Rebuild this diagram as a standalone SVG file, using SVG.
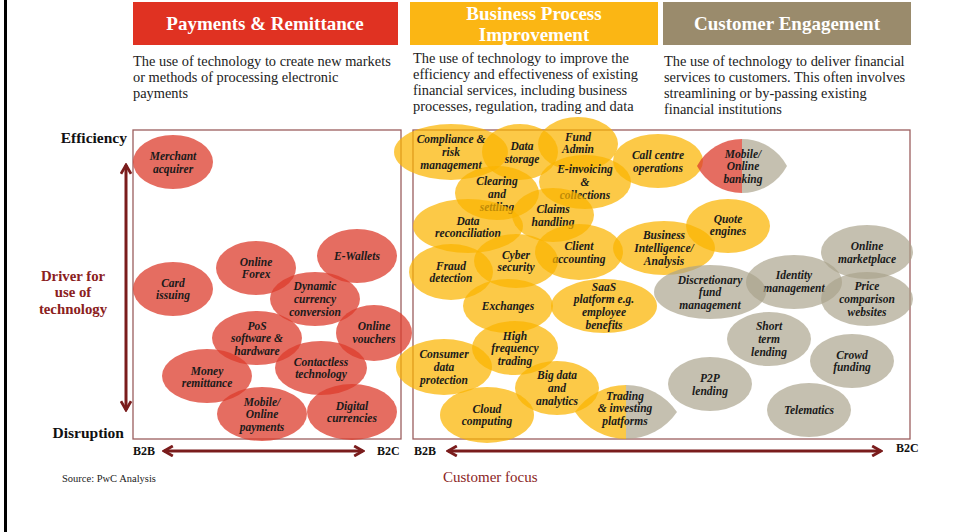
<svg xmlns="http://www.w3.org/2000/svg" width="958" height="532" viewBox="0 0 958 532">
<style>
.hdr{font-family:"Liberation Serif",serif;font-weight:bold;font-size:19px;fill:#fff;text-anchor:middle}
.desc{font-family:"Liberation Serif",serif;font-size:14.4px;fill:#222}
.bt{font-family:"Liberation Serif",serif;font-weight:bold;font-style:italic;font-size:11.5px;fill:#1a1a1a;text-anchor:middle}
.ax{font-family:"Liberation Serif",serif;font-weight:bold;font-size:15.5px;fill:#111}
.drv{font-family:"Liberation Serif",serif;font-weight:bold;font-size:14.8px;fill:#8b2020;text-anchor:middle}
.bb{font-family:"Liberation Serif",serif;font-weight:bold;font-size:12px;fill:#111}
.red{fill:#dc3c2c;fill-opacity:.75}
.yel{fill:#fbb400;fill-opacity:.72}
.gry{fill:#a9a28a;fill-opacity:.68}
.panel{fill:none;stroke:#9b5e5e;stroke-width:1.3}
.arr{stroke:#7a1c1c;stroke-width:3;fill:none}
</style>
<defs>
<marker id="chev" viewBox="0 0 10 10" refX="8.5" refY="5" markerWidth="4.2" markerHeight="4.2" orient="auto-start-reverse" markerUnits="strokeWidth">
<path d="M1.5,1 L8.5,5 L1.5,9" fill="none" stroke="#7a1c1c" stroke-width="2.2"/>
</marker>
</defs>
<rect x="0" y="0" width="958" height="532" fill="#fff"/>
<rect x="4" y="0" width="3" height="532" fill="#000"/>

<g id="header-payments">
<rect x="133" y="2" width="265" height="43" fill="#e03222"/>
<text class="hdr" x="265" y="30">Payments &amp; Remittance</text>
<text class="desc"><tspan x="133" y="66">The use of technology to create new markets</tspan><tspan x="133" y="82">or methods of processing  electronic</tspan><tspan x="133" y="98">payments</tspan></text>
</g>
<g id="header-bpi">
<rect x="410" y="2" width="248" height="43" fill="#fbb614"/>
<text class="hdr"><tspan x="534" y="19.5">Business Process</tspan><tspan x="534" y="40.5">Improvement</tspan></text>
<text class="desc"><tspan x="413" y="63">The use of technology to improve the</tspan><tspan x="413" y="79">efficiency and effectiveness of existing</tspan><tspan x="413" y="95">financial services, including business</tspan><tspan x="413" y="111">processes, regulation, trading and data</tspan></text>
</g>
<g id="header-ce">
<rect x="663" y="2" width="248" height="43" fill="#9a8b6c"/>
<text class="hdr" x="787" y="30">Customer Engagement</text>
<text class="desc"><tspan x="664" y="66">The use of technology to deliver financial</tspan><tspan x="664" y="82">services to customers. This often involves</tspan><tspan x="664" y="98">streamlining or by-passing existing</tspan><tspan x="664" y="114">financial institutions</tspan></text>
</g>

<g id="panels">
<rect class="panel" x="133" y="130" width="268" height="309"/>
<rect class="panel" x="413" y="130" width="497" height="309"/>
</g>

<g id="axis-labels">
<text class="ax" x="127" y="143" text-anchor="end">Efficiency</text>
<text class="ax" x="124" y="438" text-anchor="end">Disruption</text>
<text class="drv"><tspan x="73" y="280.5">Driver for</tspan><tspan x="73" y="297">use of</tspan><tspan x="73" y="313.5">technology</tspan></text>
<text class="bb" x="133" y="455">B2B</text>
<text class="bb" x="377" y="455">B2C</text>
<text class="bb" x="414" y="455">B2B</text>
<text class="bb" x="896" y="452">B2C</text>
<text x="62" y="482" font-family="Liberation Serif, serif" font-size="10.5" fill="#222">Source: PwC Analysis</text>
<text x="443" y="482" font-family="Liberation Serif, serif" font-size="15" fill="#8b2424">Customer focus</text>
</g>

<g id="connectors">
<line class="arr" x1="126" y1="165" x2="126" y2="410" marker-start="url(#chev)" marker-end="url(#chev)"/>
<line class="arr" x1="164" y1="451" x2="363" y2="451" marker-start="url(#chev)" marker-end="url(#chev)"/>
<line class="arr" x1="448" y1="451" x2="881" y2="451" marker-start="url(#chev)" marker-end="url(#chev)"/>
</g>

<!-- Payments & Remittance -->
<g id="merchant-acquirer"><ellipse class="red" cx="173" cy="162" rx="40" ry="27"/><text class="bt"><tspan x="173" y="160">Merchant</tspan><tspan x="173" y="173">acquirer</tspan></text></g>
<g id="card-issuing"><ellipse class="red" cx="173" cy="289" rx="40" ry="27"/><text class="bt"><tspan x="173" y="286.6">Card</tspan><tspan x="173" y="299.4">issuing</tspan></text></g>
<g id="online-forex"><ellipse class="red" cx="256" cy="268" rx="40" ry="27"/><text class="bt"><tspan x="256" y="265.6">Online</tspan><tspan x="256" y="278.4">Forex</tspan></text></g>
<g id="e-wallets"><ellipse class="red" cx="357" cy="256" rx="40" ry="27"/><text class="bt" x="357" y="260">E-Wallets</text></g>
<g id="dynamic-currency"><ellipse class="red" cx="315" cy="299" rx="45" ry="27"/><text class="bt"><tspan x="315" y="290.2">Dynamic</tspan><tspan x="315" y="303">currency</tspan><tspan x="315" y="315.8">conversion</tspan></text></g>
<g id="online-vouchers"><ellipse class="red" cx="374" cy="333" rx="38" ry="28"/><text class="bt"><tspan x="374" y="330.1">Online</tspan><tspan x="374" y="342.9">vouchers</tspan></text></g>
<g id="pos"><ellipse class="red" cx="257" cy="338" rx="45" ry="27"/><text class="bt"><tspan x="257" y="329.5">PoS</tspan><tspan x="257" y="342.3">software &amp;</tspan><tspan x="257" y="355.1">hardware</tspan></text></g>
<g id="contactless"><ellipse class="red" cx="321" cy="368" rx="46" ry="27"/><text class="bt"><tspan x="321" y="365.6">Contactless</tspan><tspan x="321" y="378.4">technology</tspan></text></g>
<g id="money-remittance"><ellipse class="red" cx="207" cy="376" rx="45" ry="27"/><text class="bt"><tspan x="207" y="374.6">Money</tspan><tspan x="207" y="387.4">remittance</tspan></text></g>
<g id="mobile-payments"><ellipse class="red" cx="262" cy="414" rx="45" ry="27"/><text class="bt"><tspan x="262" y="405.5">Mobile/</tspan><tspan x="262" y="418.3">Online</tspan><tspan x="262" y="431.1">payments</tspan></text></g>
<g id="digital-currencies"><ellipse class="red" cx="352" cy="412" rx="45" ry="28"/><text class="bt"><tspan x="352" y="409.6">Digital</tspan><tspan x="352" y="422.4">currencies</tspan></text></g>

<!-- Business Process Improvement -->
<g id="compliance"><ellipse class="yel" cx="451" cy="152" rx="57" ry="28"/><text class="bt"><tspan x="451" y="143.2">Compliance &amp;</tspan><tspan x="451" y="156">risk</tspan><tspan x="451" y="168.8">management</tspan></text></g>
<g id="data-storage"><ellipse class="yel" cx="520" cy="152" rx="38" ry="28"/><text class="bt"><tspan x="522" y="150.1">Data</tspan><tspan x="522" y="162.9">storage</tspan></text></g>
<g id="fund-admin"><ellipse class="yel" cx="578" cy="144" rx="40" ry="27"/><text class="bt"><tspan x="578" y="140.6">Fund</tspan><tspan x="578" y="153.4">Admin</tspan></text></g>
<g id="call-centre"><ellipse class="yel" cx="658" cy="161" rx="45" ry="27"/><text class="bt"><tspan x="658" y="159.1">Call centre</tspan><tspan x="658" y="171.9">operations</tspan></text></g>
<g id="e-invoicing"><ellipse class="yel" cx="585" cy="182" rx="46" ry="27"/><text class="bt"><tspan x="585" y="172.9">E-invoicing</tspan><tspan x="585" y="185.7">&amp;</tspan><tspan x="585" y="198.5">collections</tspan></text></g>
<g id="clearing"><ellipse class="yel" cx="497" cy="193" rx="42" ry="27"/><text class="bt"><tspan x="497" y="184.9">Clearing</tspan><tspan x="497" y="197.7">and</tspan><tspan x="497" y="210.5">settling</tspan></text></g>
<g id="claims"><ellipse class="yel" cx="553" cy="215" rx="41" ry="27"/><text class="bt"><tspan x="553" y="213.1">Claims</tspan><tspan x="553" y="225.9">handling</tspan></text></g>
<g id="data-reconciliation"><ellipse class="yel" cx="468" cy="226" rx="55" ry="27"/><text class="bt"><tspan x="468" y="224.6">Data</tspan><tspan x="468" y="237.4">reconciliation</tspan></text></g>
<g id="client-accounting"><ellipse class="yel" cx="579" cy="252" rx="44" ry="28"/><text class="bt"><tspan x="579" y="250.1">Client</tspan><tspan x="579" y="262.9">accounting</tspan></text></g>
<g id="cyber-security"><ellipse class="yel" cx="516" cy="261" rx="42" ry="27"/><text class="bt"><tspan x="516" y="258.6">Cyber</tspan><tspan x="516" y="271.4">security</tspan></text></g>
<g id="fraud-detection"><ellipse class="yel" cx="451" cy="272" rx="42" ry="28"/><text class="bt"><tspan x="451" y="269.6">Fraud</tspan><tspan x="451" y="282.4">detection</tspan></text></g>
<g id="business-intelligence"><ellipse class="yel" cx="664" cy="248" rx="51" ry="27"/><text class="bt"><tspan x="664" y="238.9">Business</tspan><tspan x="664" y="251.7">Intelligence/</tspan><tspan x="664" y="264.5">Analysis</tspan></text></g>
<g id="quote-engines"><ellipse class="yel" cx="728" cy="226" rx="42" ry="27"/><text class="bt"><tspan x="728" y="222.6">Quote</tspan><tspan x="728" y="235.4">engines</tspan></text></g>
<g id="exchanges"><ellipse class="yel" cx="508" cy="306" rx="45" ry="27"/><text class="bt" x="508" y="310">Exchanges</text></g>
<g id="saas"><ellipse class="yel" cx="604" cy="306" rx="53" ry="27"/><text class="bt"><tspan x="604" y="290.6">SaaS</tspan><tspan x="604" y="303.4">platform e.g.</tspan><tspan x="604" y="316.2">employee</tspan><tspan x="604" y="329">benefits</tspan></text></g>
<g id="hft"><ellipse class="yel" cx="515" cy="348" rx="43" ry="27"/><text class="bt"><tspan x="515" y="339.5">High</tspan><tspan x="515" y="352.3">frequency</tspan><tspan x="515" y="365.1">trading</tspan></text></g>
<g id="consumer-data"><ellipse class="yel" cx="444" cy="367" rx="48" ry="28"/><text class="bt"><tspan x="444" y="358.2">Consumer</tspan><tspan x="444" y="371">data</tspan><tspan x="444" y="383.8">protection</tspan></text></g>
<g id="big-data"><ellipse class="yel" cx="557" cy="388" rx="42" ry="27"/><text class="bt"><tspan x="557" y="378.9">Big data</tspan><tspan x="557" y="391.7">and</tspan><tspan x="557" y="404.5">analytics</tspan></text></g>
<g id="cloud"><ellipse class="yel" cx="487" cy="415" rx="47" ry="28"/><text class="bt"><tspan x="487" y="412.6">Cloud</tspan><tspan x="487" y="425.4">computing</tspan></text></g>
<g id="trading-platforms">
<path class="yel" d="M626,385 A62,62 0 0 0 575,412 A62,62 0 0 0 626,439 Z"/>
<path class="gry" d="M626,385 A62,62 0 0 1 677,412 A62,62 0 0 1 626,439 Z"/>
<text class="bt"><tspan x="625" y="399.5">Trading</tspan><tspan x="625" y="412.3">&amp; investing</tspan><tspan x="625" y="425.1">platforms</tspan></text>
</g>

<!-- Customer Engagement -->
<g id="mobile-banking">
<path class="red" d="M742,139 A51,51 0 0 0 697,166 A51,51 0 0 0 742,193 Z"/>
<path class="gry" d="M742,139 A51,51 0 0 1 787,166 A51,51 0 0 1 742,193 Z"/>
<text class="bt"><tspan x="743" y="157.5">Mobile/</tspan><tspan x="743" y="170.3">Online</tspan><tspan x="743" y="183.1">banking</tspan></text>
</g>
<g id="online-marketplace"><ellipse class="gry" cx="867" cy="252" rx="46" ry="27"/><text class="bt"><tspan x="867" y="250.1">Online</tspan><tspan x="867" y="262.9">marketplace</tspan></text></g>
<g id="identity-management"><ellipse class="gry" cx="794" cy="282" rx="48" ry="27"/><text class="bt"><tspan x="794" y="279.1">Identity</tspan><tspan x="794" y="291.9">management</tspan></text></g>
<g id="discretionary-fund"><ellipse class="gry" cx="710" cy="292" rx="56" ry="27"/><text class="bt"><tspan x="710" y="283.5">Discretionary</tspan><tspan x="710" y="296.3">fund</tspan><tspan x="710" y="309.1">management</tspan></text></g>
<g id="price-comparison"><ellipse class="gry" cx="867" cy="299" rx="46" ry="27"/><text class="bt"><tspan x="867" y="289.9">Price</tspan><tspan x="867" y="302.7">comparison</tspan><tspan x="867" y="315.5">websites</tspan></text></g>
<g id="short-term-lending"><ellipse class="gry" cx="769" cy="339" rx="42" ry="27"/><text class="bt"><tspan x="769" y="330.2">Short</tspan><tspan x="769" y="343">term</tspan><tspan x="769" y="355.8">lending</tspan></text></g>
<g id="crowd-funding"><ellipse class="gry" cx="852" cy="361" rx="42" ry="27"/><text class="bt"><tspan x="852" y="358.6">Crowd</tspan><tspan x="852" y="371.4">funding</tspan></text></g>
<g id="p2p-lending"><ellipse class="gry" cx="710" cy="384" rx="42" ry="27"/><text class="bt"><tspan x="710" y="382.1">P2P</tspan><tspan x="710" y="394.9">lending</tspan></text></g>
<g id="telematics"><ellipse class="gry" cx="809" cy="410" rx="42" ry="27"/><text class="bt" x="809" y="414">Telematics</text></g>
</svg>
